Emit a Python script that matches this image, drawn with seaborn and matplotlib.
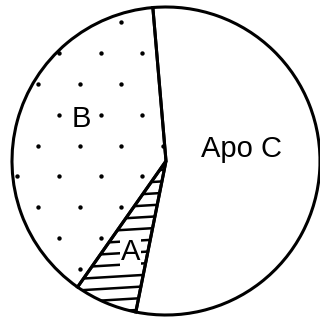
import numpy as np
import matplotlib
matplotlib.use("Agg")
import matplotlib.pyplot as plt
import seaborn as sns

# apolipoprotein shares (percent)
labels = ["B", "A", "Apo C"]
shares = [38.9, 6.6, 54.5]
start_angle = 94.9

sns.set_theme(style="white")
plt.rcParams["font.family"] = ["Liberation Sans", "DejaVu Sans"]

fig = plt.figure(figsize=(3.2, 3.22), dpi=100)
ax = fig.add_axes([0, 0, 1, 1])

wedges, texts = ax.pie(shares, labels=labels, startangle=start_angle, counterclock=True,
                       colors=["white"] * 3, labeldistance=0.6,
                       wedgeprops=dict(edgecolor="black", linewidth=2.2),
                       textprops=dict(fontsize=21, color="black"))

# nudge labels to where they sit in the drawing
label_xy = {"B": (-0.55, 0.27), "A": (-0.23, -0.59), "Apo C": (0.49, 0.08)}
for t in texts:
    t.set_position(label_xy[t.get_text()])
    t.set_ha("center")
    t.set_va("center")
    t.set_zorder(5)
    if t.get_text() == "A":
        t.set_bbox(dict(facecolor="white", edgecolor="none", pad=0.5))

# dotted texture for B
gx, gy = np.meshgrid(np.arange(-1.1, 1.1, 0.27), np.arange(-1.1, 1.1, 0.2))
gx = gx + (np.arange(gx.shape[0])[:, None] % 2) * 0.135
dots = ax.scatter(gx.ravel(), gy.ravel(), s=10, color="black", zorder=3, linewidths=0)
dots.set_clip_path(wedges[0])

# line hatching for A
for y0 in np.arange(-0.08, -1.1, -0.075):
    xs = np.array([-1.0, 0.2])
    ln, = ax.plot(xs, y0 + 0.06 * (xs + 0.4), color="black", lw=1.8, zorder=3)
    ln.set_clip_path(wedges[1])

for w in wedges:
    w.set_zorder(4)
    w.set_facecolor("none")

ax.set_xlim(-166 / 154, 154 / 154)
ax.set_ylim(-161 / 154, 161 / 154)
ax.set_aspect("auto")
ax.axis("off")

fig.savefig("out.png", dpi=100, facecolor="white")
